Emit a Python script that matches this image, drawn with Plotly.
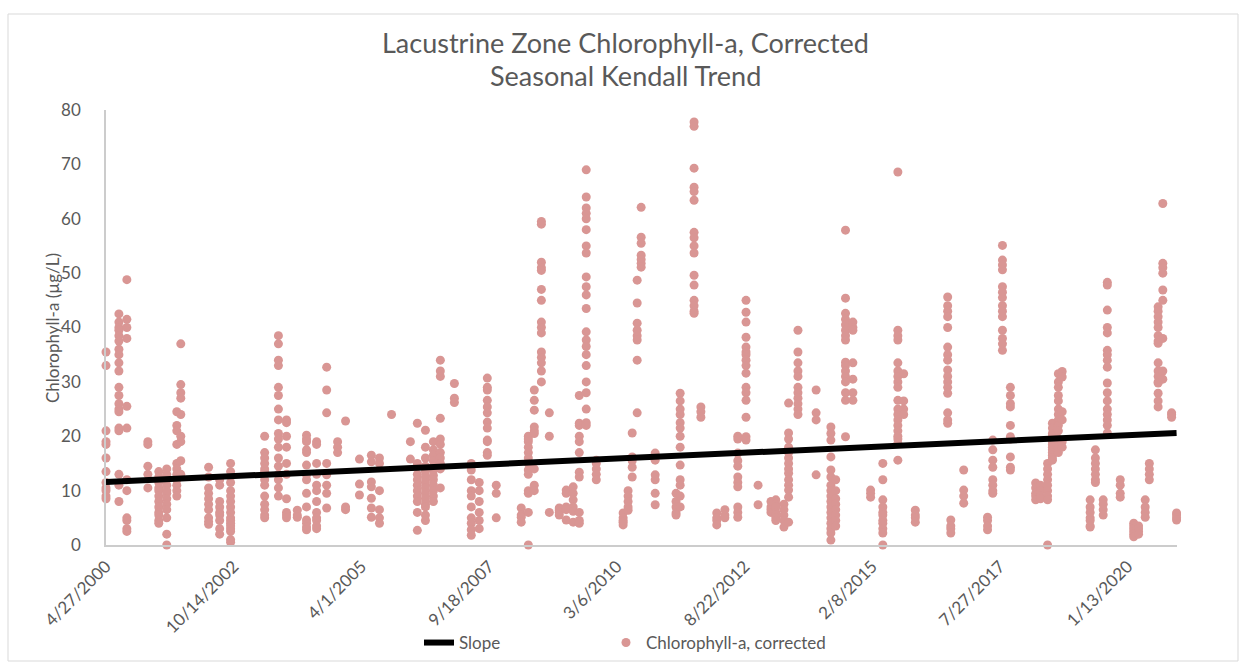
import pandas as pd
import plotly.graph_objects as go

# Sampling dates (one entry per sampling event) and the chlorophyll-a results for each event (µg/L)
sample_dates = [
    "2000-04-27", "2000-07-27", "2000-09-21",
    "2001-02-16", "2001-05-04", "2001-06-29", "2001-09-08", "2001-10-06",
    "2002-04-20", "2002-07-07", "2002-09-22",
    "2003-05-20", "2003-08-25", "2003-10-21",
    "2004-01-05", "2004-03-10", "2004-05-20", "2004-07-30", "2004-10-15", "2004-12-10",
    "2005-03-18", "2005-06-10", "2005-08-06", "2005-10-30",
    "2006-03-12", "2006-04-30", "2006-06-26", "2006-08-21", "2006-10-09",
    "2007-01-16", "2007-05-15", "2007-07-10", "2007-09-05", "2007-11-07",
    "2008-05-01", "2008-06-20", "2008-08-01", "2008-09-20", "2008-11-15",
    "2009-01-24", "2009-03-14", "2009-05-02", "2009-06-14", "2009-08-02", "2009-10-12",
    "2010-04-19", "2010-05-24", "2010-06-22", "2010-07-27", "2010-08-24", "2010-12-01",
    "2011-04-27", "2011-05-26", "2011-09-01", "2011-10-19",
    "2012-02-08", "2012-04-05", "2012-07-05", "2012-09-01", "2012-11-25",
    "2013-02-24", "2013-03-30", "2013-05-26", "2013-06-28", "2013-09-02",
    "2014-01-08", "2014-04-22", "2014-05-26", "2014-08-03", "2014-09-24",
    "2015-01-27", "2015-04-23", "2015-08-07", "2015-09-17", "2015-12-08",
    "2016-07-23", "2016-08-14", "2016-11-13",
    "2017-04-30", "2017-06-06", "2017-08-13", "2017-10-08",
    "2018-04-04", "2018-05-08", "2018-06-27", "2018-07-31", "2018-09-11", "2018-10-08",
    "2019-04-23", "2019-05-30", "2019-07-24", "2019-08-22", "2019-11-21",
    "2020-02-24", "2020-03-29", "2020-05-15", "2020-06-13", "2020-08-14", "2020-09-16",
    "2020-11-17", "2020-12-22",
]

chl_values = [
    [35.5, 33, 21, 19, 18.5, 16, 13.5, 11.5, 10.5, 9, 8.5, 10],
    [42.5, 41, 40, 39.5, 38.5, 37.5, 36, 35, 33.5, 32, 29, 27.5, 26, 25, 24.5, 21.5, 21, 13, 11, 8],
    [48.8, 41.5, 40, 38, 25.5, 21.5, 12, 10, 5, 4.5, 3, 2.5],
    [19, 18.5, 14.5, 13, 10.5],
    [13.5, 12.5, 11.5, 10.5, 10, 9, 8, 7, 6, 5.5, 4.5, 4],
    [14, 13, 12, 11, 10, 9.5, 8.5, 7.5, 6.5, 5, 2, 0],
    [24.5, 22, 21, 18.5, 15, 14, 13, 12, 11, 10, 9],
    [37, 29.5, 28, 27, 24, 20, 19, 15.5, 13],
    [14.3, 12.5, 10.5, 9.5, 8.5, 7.5, 6.5, 5, 4.3, 3.8],
    [12, 11, 8, 7, 6, 5.5, 4.5, 3, 2],
    [15, 13.5, 11.5, 10, 9, 8, 7, 6, 5, 4.5, 4, 3.5, 3, 2.5, 1, 0.5],
    [20, 17, 16, 15, 14, 13.5, 12, 11, 9, 7.5, 6.5, 5.5, 5],
    [38.5, 37, 34, 33, 29, 27.5, 25, 23, 20.5, 19.5, 18, 16, 14.5, 13, 12, 10.5, 9],
    [23, 22.5, 20, 18, 15, 13, 8.5, 6, 5.5, 5],
    [6.4, 5.5, 5.1],
    [20.2, 19.5, 19, 17.5, 17, 14.7, 12.9, 12, 9.5, 7, 4.6, 4, 3.3, 2.8],
    [19, 18.5, 15, 13, 11, 10, 8, 6, 5, 4.5, 3.5, 3],
    [32.7, 28.5, 24.3, 15, 12.9, 11, 9.5, 6.8],
    [19, 18, 17],
    [22.8, 7, 6.5],
    [15.8, 11.2, 9.2],
    [16.5, 15.3, 11.6, 10.7, 8.6, 6.8, 5.1],
    [16, 15, 10, 6.5, 5, 4],
    [24],
    [19, 15.8],
    [22.4, 15, 13, 12, 11, 10, 9, 8, 6, 2.7],
    [21.1, 18, 16, 14.5, 13.5, 12.5, 11.5, 10.5, 9.5, 8.5, 7.5, 7, 5.5, 4.5],
    [19, 17.5, 16.5, 15.5, 14.5, 13.8, 12.8, 12, 11, 10, 9, 8],
    [34, 32, 31, 23.3, 19.5, 18.5, 17, 16, 15, 14, 10.5],
    [29.7, 27, 26.2],
    [15, 13.8, 12, 10, 9, 7, 5, 4, 2.8, 1.8],
    [11.5, 10, 8, 6, 4.5, 3],
    [30.7, 29, 28.5, 26.6, 25.4, 24.3, 22.6, 21.5, 19.3, 19, 17, 16.5],
    [11, 9.5, 5],
    [6.8, 5.5, 5.1, 4.2],
    [20, 19.5, 19, 18, 17, 16, 15, 13.8, 13, 10, 9.5, 6, 0],
    [28.5, 26.6, 24.8, 21.7, 21, 20.5, 14, 11, 10],
    [59.5, 59, 52, 51, 50.5, 47, 45, 41, 40, 39, 35.5, 34.5, 33.5, 32, 30],
    [24.3, 20, 6],
    [6.8, 6.4, 6, 5.5],
    [10.1, 9.5, 7, 6.5, 4.6],
    [10.7, 9.5, 8.3, 7, 6.2, 4.2],
    [27.5, 22.4, 22, 20, 19, 17, 13.4, 12.5, 6, 4.5, 4],
    [69, 64, 62, 61, 60, 58, 55, 53.7, 49.3, 47.5, 46, 43.5, 39.2, 37.7, 36.5, 35, 33, 30, 28, 25, 22.5, 22],
    [15.6, 15, 14, 13, 12],
    [5.9, 5, 4.5, 4.2, 3.7],
    [10, 9, 8, 7, 6.4],
    [20.6, 16.2, 15.5, 14.3, 12.5],
    [48.7, 44.5, 40.8, 39.5, 38.5, 37.7, 34, 24.3],
    [62.1, 56.6, 55.5, 53.3, 52.5, 51.8, 51.1],
    [16.9, 15.6, 12.9, 12, 9.5, 7.4],
    [9.5, 8, 7, 5.9, 5.5],
    [27.9, 26.5, 25, 24, 22.5, 21.5, 20, 18, 14.7, 12, 11, 9, 7],
    [77.8, 77, 69.3, 65.8, 65, 63.4, 57.5, 56.5, 55, 53.7, 49.6, 47.8, 45, 44, 43, 42.6],
    [25.4, 24.5, 23.5],
    [5.9, 5, 4.5, 3.7],
    [6.5, 5.5, 5],
    [20, 19.5, 16.9, 15.5, 14.5, 12.5, 11.5, 10.7, 7, 6, 5.1],
    [45, 42.8, 41, 38.2, 36.4, 35.5, 35, 34, 33, 31.6, 29, 28, 26.6, 23.5, 19.9, 19.3],
    [11, 7.4],
    [8, 7, 6.5, 6],
    [8.3, 7.5, 7, 6, 5.5, 5, 4.5],
    [7.5, 6.5, 5.5, 4.5, 3.3],
    [26.1, 20.6, 19.5, 18, 17, 16, 15, 14, 13.2, 12, 11, 10.1, 8.8, 4.2],
    [39.5, 35.5, 33.5, 32, 31, 29, 28, 27, 26, 25, 24],
    [28.5, 24.3, 23, 12.9],
    [21.7, 20.5, 19.3, 16.2, 13.8, 12.5, 11, 10, 9, 8, 7, 6, 5, 4, 3, 2.2, 0.9],
    [12, 10, 8.5, 7.5, 6.5, 5.5, 4.5, 3.5],
    [57.9, 45.4, 42.6, 41.5, 40.5, 39.5, 38.5, 37.7, 33.6, 33, 32, 31, 30, 28, 26.6, 19.9],
    [41, 40, 39.5, 33.5, 30.5, 28, 26.6],
    [10.1, 9.5, 8.8],
    [15, 12, 8.3, 7, 6, 5.5, 4.5, 4, 3, 2.2, 0],
    [68.6, 39.5, 38.5, 37.7, 33.5, 32, 31, 30, 29, 26.6, 25, 24, 23, 22, 21, 20, 19.5, 18.7, 15.6],
    [31.5, 26.5, 25, 24],
    [6.4, 5.5, 5, 4.2],
    [45.6, 44, 43, 42, 40, 36.4, 35, 34, 32.2, 31, 30, 29, 27.9, 24.3, 23, 22.4],
    [4.6, 3.5, 3, 2.2],
    [13.8, 10.1, 9, 7.7],
    [5.1, 4.5, 3.5, 2.8],
    [19.3, 17.5, 15.6, 14.3, 12, 11, 10, 9.5],
    [55.1, 52.4, 51.5, 50.6, 47.5, 46.5, 45.5, 44, 43, 42, 39.5, 38, 37, 35.8],
    [29, 27.5, 26, 25.4, 22, 19.9, 19.5, 16.2, 14.3, 13.8],
    [11.4, 10.5, 9.5, 9, 8.3],
    [11, 10, 9, 8.5],
    [15, 14, 13, 12, 11, 10, 9, 8.3, 0],
    [22.4, 21.5, 20.5, 20, 19, 18.5, 18, 17.5, 17, 16.5, 16, 15.6],
    [31.5, 30, 29, 27.5, 26.5, 25, 24, 23, 22, 21, 19.5, 18, 17],
    [31.9, 30.9, 24.5, 23, 19, 18],
    [8.3, 7, 6, 5, 4.5, 3.5, 3.3],
    [17.5, 16, 15, 14, 13, 12, 11.5],
    [8.3, 7.5, 6.5, 5.5],
    [48.3, 47.8, 43.2, 40, 39, 35.8, 35, 34, 32.7, 29.8, 28, 26.5, 25, 24, 23, 22, 20.6],
    [12, 11, 9.5, 8.8],
    [4, 3.5, 3, 2.5, 2, 1.5],
    [3.5, 3, 2.5, 2],
    [8.3, 7, 6, 5.1],
    [15, 14, 13, 12],
    [43.8, 43, 42, 41, 40, 38.5, 37.5, 37.1, 33.5, 32, 31, 30, 29.8, 27.9, 26.5, 25.4],
    [62.8, 51.8, 51, 50, 46.9, 45, 38, 32, 30.5],
    [24.3, 24, 23.5],
    [5.9, 5.5, 5, 4.6],
]

# Seasonal Kendall trend line endpoints
slope_dates = ["2000-04-27", "2020-12-22"]
slope_values = [11.6, 20.6]

# Date-axis ticks every 900 days from the first sample
tick_labels = ["4/27/2000", "10/14/2002", "4/1/2005", "9/18/2007", "3/6/2010",
               "8/22/2012", "2/8/2015", "7/27/2017", "1/13/2020"]
y_ticks = [0, 10, 20, 30, 40, 50, 60, 70, 80]

# Flatten events into point lists
x_pts, y_pts = [], []
for d, vals in zip(sample_dates, chl_values):
    for v in vals:
        x_pts.append(d)
        y_pts.append(v)

tick_vals = list(pd.date_range("2000-04-27", periods=len(tick_labels), freq="900D"))

FONT = "Lato"
GREY = "#595959"
AXIS = "#cccccc"

fig = go.Figure()
fig.add_trace(go.Scatter(
    x=x_pts, y=y_pts, mode="markers", name="Chlorophyll-a, corrected",
    marker=dict(size=9, color="#d99694", line=dict(width=0)),
    cliponaxis=False, legend="legend2",
))
fig.add_trace(go.Scatter(
    x=slope_dates, y=slope_values, mode="lines", name="Slope",
    line=dict(color="black", width=6), legend="legend",
))

L, R, T, B = 106, 1177, 110, 545
W, H = 1243, 666


def px(x):
    return (x - L) / (R - L)


def py(y):
    return (B - y) / (B - T)


legend_common = dict(orientation="h", yanchor="middle", xanchor="left",
                     font=dict(size=17, color=GREY, family=FONT),
                     itemwidth=30, bgcolor="rgba(0,0,0,0)")

fig.update_layout(
    width=W, height=H,
    margin=dict(l=L, r=W - R, t=T, b=H - B, autoexpand=False),
    paper_bgcolor="white", plot_bgcolor="white",
    font=dict(family=FONT, color=GREY, size=17),
    showlegend=True,
    legend=dict(x=px(419), y=py(643), **legend_common),
    legend2=dict(x=px(606), y=py(643), **legend_common),
    xaxis=dict(
        type="date", range=["2000-04-27", "2020-12-25"], automargin=False,
        tickvals=tick_vals, ticktext=tick_labels, tickangle=-45,
        showgrid=False, zeroline=False, showline=True, linecolor=AXIS, linewidth=1.5,
        ticks="", ticklabelstandoff=3, tickfont=dict(size=17, color=GREY, family=FONT),
    ),
    yaxis=dict(
        range=[0, 80], tickvals=y_ticks, showgrid=False, zeroline=False, automargin=False,
        showline=True, linecolor=AXIS, linewidth=1.5, ticks="",
        ticklabelstandoff=20, tickfont=dict(size=17, color=GREY, family=FONT),
    ),
    annotations=[
        dict(text="Lacustrine Zone Chlorophyll-a, Corrected", x=px(625), y=py(42),
             xref="paper", yref="paper", showarrow=False, xanchor="center", yanchor="middle",
             font=dict(size=27, color=GREY, family=FONT)),
        dict(text="Seasonal Kendall Trend", x=px(625), y=py(76),
             xref="paper", yref="paper", showarrow=False, xanchor="center", yanchor="middle",
             font=dict(size=27, color=GREY, family=FONT)),
        dict(text="Chlorophyll-a (µg/L)", x=px(52), y=py(328), textangle=-90,
             xref="paper", yref="paper", showarrow=False, xanchor="center", yanchor="middle",
             font=dict(size=17, color=GREY, family=FONT)),
    ],
    shapes=[
        dict(type="rect", xref="paper", yref="paper",
             x0=px(8), x1=px(1238), y0=py(661), y1=py(14),
             line=dict(color="#d9d9d9", width=1), fillcolor="rgba(0,0,0,0)", layer="below"),
    ],
)

fig.write_html("out.html")
